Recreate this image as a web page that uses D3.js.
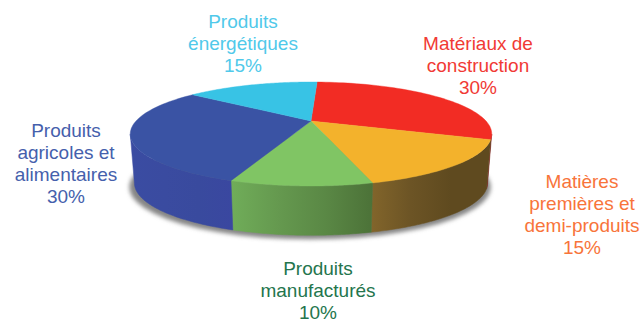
<!DOCTYPE html>
<html><head><meta charset="utf-8">
<script src="https://cdn.jsdelivr.net/npm/d3@7"></script>
<style>html,body{margin:0;padding:0;background:#fff}svg{display:block}text{font-family:"Liberation Sans",Arial,sans-serif;font-size:19px;text-anchor:middle}</style>
</head><body><svg id="c" width="642" height="320"></svg>
<script>
const categories = [
  ["Matériaux de","construction"],
  ["Matières","premières et","demi-produits"],
  ["Produits","manufacturés"],
  ["Produits","agricoles et","alimentaires"],
  ["Produits","énergétiques"]
];
const values = [30, 15, 10, 30, 15];
const topColors = ["#f22c24","#f3b22c","#80c564","#3a53a4","#38c3e5"];
const wallStops = [
  ["#7a1f1a","#7a1f1a"],
  ["#82652b","#6c5425","#5f4a1f","#5f4a1f"],
  ["#70ad59","#65994f","#5a8845","#4c7238"],
  ["#3a4ca2","#3a4ba0","#394a9e","#3a47a0"],
  ["#2a90aa","#2a90aa"]
];
const textColors = ["#f13a34","#f8743a","#24754d","#4560ac","#50c9ea"];
const labelAnchors = [[478,50],[582,188],[318,275],[66,137],[243,28]];
const lineHeight = 22;

const svg = d3.select("#c");
const defs = svg.append("defs");
defs.append("filter").attr("id","blur").attr("x","-10%").attr("y","-20%").attr("width","120%").attr("height","140%")
  .append("feGaussianBlur").attr("stdDeviation",2.2);

const k = 0.25;
const project = (c) => (t) => {
  const u = Math.sin(t), v = -Math.cos(t), w = 1 - k * v;
  return [c.x0 + c.a * u / w, c.y0 + c.b * v / w];
};
const topRim = project({x0:311, y0:121, a:175, b:48.75});
const botRim = project({x0:311, y0:170, a:171, b:49});
const shadowRim = project({x0:310, y0:174, a:175, b:49});

const pie = d3.pie().sort(null).value(d=>d)
  .startAngle(2.5*Math.PI/180).endAngle(2.5*Math.PI/180+2*Math.PI);
const arcs = pie(values);

const line = d3.line();
const sample = (a,b) => d3.range(0,61).map(i=>a+(b-a)*i/60);

// shadow
svg.append("path")
  .attr("d", line(sample(0,2*Math.PI).map(shadowRim))+"Z")
  .attr("fill","#858585").attr("filter","url(#blur)");

// visible wall range (silhouette of the disc)
const visA = Math.acos(-k), visB = 2*Math.PI - visA;
arcs.forEach((d,i)=>{
  const a = Math.max(d.startAngle,visA), b = Math.min(d.endAngle,visB);
  if (b<=a) return;
  const ts = sample(a,b);
  const pts = ts.map(topRim).concat(ts.slice().reverse().map(botRim));
  const xs = d3.extent(pts,p=>p[0]);
  const id = "w"+i;
  const gr = defs.append("linearGradient").attr("id",id).attr("gradientUnits","userSpaceOnUse")
    .attr("x1",xs[0]).attr("x2",xs[1]).attr("y1",0).attr("y2",0);
  wallStops[i].forEach((c,j,arr)=>{
    gr.append("stop").attr("offset",j/(arr.length-1)).attr("stop-color",c);
  });
  svg.append("path").attr("d",line(pts)+"Z").attr("fill",`url(#${id})`)
    .attr("stroke",`url(#${id})`).attr("stroke-width",0.5);
});

// top faces
arcs.forEach((d,i)=>{
  const pts = [[311,121]].concat(sample(d.startAngle,d.endAngle).map(topRim));
  svg.append("path").attr("d",line(pts)+"Z").attr("fill",topColors[i])
    .attr("stroke",topColors[i]).attr("stroke-width",0.4);
});

// labels
categories.forEach((lines,i)=>{
  const t = svg.append("text").attr("fill",textColors[i]);
  lines.concat([values[i]+"%"]).forEach((s,j)=>{
    t.append("tspan").attr("x",labelAnchors[i][0]).attr("y",labelAnchors[i][1]+j*lineHeight).text(s);
  });
});
</script></body></html>
